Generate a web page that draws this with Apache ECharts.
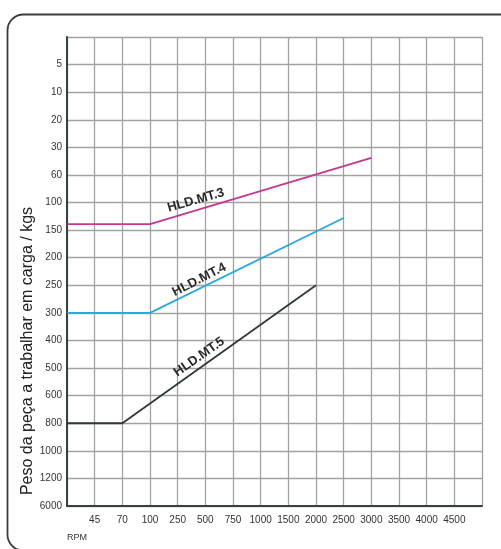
<!DOCTYPE html>
<html><head><meta charset="utf-8">
<script src="https://cdn.jsdelivr.net/npm/echarts@6/dist/echarts.min.js"></script>
<style>html,body{margin:0;padding:0;background:#fff}#c{width:501px;height:549px}</style>
</head><body><div id="c"></div>
<script>
// X axis: RPM categories (position 0 and 15 are the unlabeled plot edges)
const rpmLabels = ['', '45', '70', '100', '250', '500', '750', '1000', '1500', '2000', '2500', '3000', '3500', '4000', '4500', ''];
// Y axis: weight categories from top (position 0 = top edge)
const kgLabels = ['', '5', '10', '20', '30', '60', '100', '150', '200', '250', '300', '400', '500', '600', '800', '1000', '1200', '6000'];

// Series: [rpm position, weight-scale position]
const mt3 = [[0, 6.78], [3, 6.78], [11, 4.38]];
const mt4 = [[0, 10.0], [3, 10.0], [10, 6.56]];
const mt5 = [[0, 14.0], [2, 14.0], [9, 9.0]];

const seriesNames = ['HLD.MT.3', 'HLD.MT.4', 'HLD.MT.5'];
const seriesColors = ['#c6378f', '#2ba6de', '#2d3a35'];
// Label anchor points (data space) and rotation
const labelPos = [[4.66, 5.92], [4.78, 8.8], [4.78, 11.6]];
const labelRot = [16, 27, 35];

const FONT = '"Liberation Sans Narrow", "Liberation Sans", sans-serif';
const chart = echarts.init(document.getElementById('c'), null, {renderer: 'canvas'});

const option = {
  animation: false,
  grid: {left: 67, right: 19, top: 37, bottom: 43},
  xAxis: {
    type: 'value', min: 0, max: 15, interval: 1,
    axisLine: {show: true, onZero: false, lineStyle: {color: '#34433e', width: 2}},
    axisTick: {show: false},
    axisLabel: {margin: 9, fontSize: 10, color: '#333', fontFamily: FONT,
      formatter: v => rpmLabels[Math.round(v)] || ''},
    splitLine: {show: true, lineStyle: {color: '#a2a2a2', width: 1.3}}
  },
  yAxis: {
    type: 'value', min: 0, max: 17, interval: 1, inverse: true,
    axisLine: {show: true, onZero: false, lineStyle: {color: '#34433e', width: 2}},
    axisTick: {show: false},
    axisLabel: {margin: 5, fontSize: 10, color: '#333', fontFamily: FONT,
      formatter: v => kgLabels[Math.round(v)] || ''},
    splitLine: {show: true, lineStyle: {color: '#a2a2a2', width: 1.3}}
  },
  series: [mt3, mt4, mt5].map((d, i) => ({
    type: 'line', name: seriesNames[i], data: d, symbol: 'none',
    lineStyle: {color: seriesColors[i], width: 1.8}, z: 3
  }))
};
chart.setOption(option);

const g = [
  {type: 'rect', left: 5, top: 12, shape: {x: 0, y: 0, width: 510, height: 536, r: 16},
   style: {fill: 'none', stroke: '#3c3c3c', lineWidth: 1.8}, z: -1, silent: true},
  {type: 'text', x: 28, y: 351, rotation: Math.PI / 2,
   style: {text: 'Peso da peça a trabalhar em carga / kgs', font: '16px "Liberation Sans", sans-serif',
     fill: '#222', textAlign: 'center', textVerticalAlign: 'middle'}},
  {type: 'text', x: 77, y: 538,
   style: {text: 'RPM', font: '9px ' + FONT, fill: '#333', textAlign: 'center', textVerticalAlign: 'middle'}}
];
labelPos.forEach((p, i) => {
  const px = chart.convertToPixel({gridIndex: 0}, p);
  g.push({type: 'text', x: px[0], y: px[1], rotation: labelRot[i] * Math.PI / 180,
    style: {text: seriesNames[i], font: 'bold 13px ' + FONT, fill: '#2a2a2a',
      textAlign: 'center', textVerticalAlign: 'middle'}});
});
chart.setOption({graphic: g});
</script></body></html>
